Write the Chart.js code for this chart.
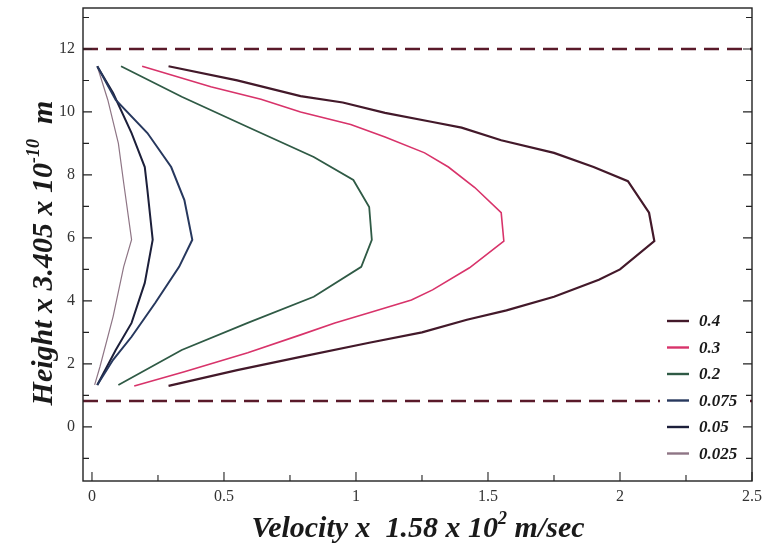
<!DOCTYPE html>
<html>
<head>
<meta charset="utf-8">
<script src="https://cdn.jsdelivr.net/npm/chart.js@4"></script>
<style>
html, body { margin: 0; padding: 0; background: #fff; }
</style>
</head>
<body>
<canvas id="chart1" width="764" height="549"></canvas>
<script>
// curves: velocity (x) and height (y), listed from top end to bottom end
var vel04 = [0.29, 0.55, 0.79, 0.95, 1.11, 1.29, 1.40, 1.55, 1.75, 1.90, 2.03, 2.11, 2.13, 2.00, 1.92, 1.75, 1.57, 1.42, 1.25, 1.05, 0.79, 0.55, 0.29];
var hgt04 = [11.45, 11.0, 10.5, 10.3, 9.97, 9.68, 9.5, 9.1, 8.7, 8.25, 7.8, 6.8, 5.9, 5.0, 4.67, 4.13, 3.7, 3.4, 3.0, 2.67, 2.22, 1.8, 1.3];

var vel03 = [0.19, 0.45, 0.64, 0.79, 0.98, 1.11, 1.26, 1.35, 1.45, 1.55, 1.56, 1.43, 1.29, 1.21, 1.05, 0.92, 0.79, 0.59, 0.35, 0.16];
var hgt03 = [11.45, 10.8, 10.4, 10.0, 9.6, 9.2, 8.7, 8.25, 7.6, 6.8, 5.9, 5.05, 4.35, 4.03, 3.62, 3.3, 2.92, 2.35, 1.75, 1.3];

var vel02 = [0.11, 0.34, 0.59, 0.84, 0.99, 1.05, 1.06, 1.02, 0.84, 0.59, 0.34, 0.10];
var hgt02 = [11.45, 10.48, 9.52, 8.57, 7.84, 6.98, 5.94, 5.08, 4.13, 3.3, 2.44, 1.33];

var vel0075 = [0.02, 0.09, 0.21, 0.30, 0.35, 0.38, 0.33, 0.24, 0.15, 0.08, 0.02];
var hgt0075 = [11.45, 10.38, 9.33, 8.25, 7.2, 5.94, 5.08, 3.94, 2.86, 2.13, 1.33];

var vel005 = [0.02, 0.08, 0.15, 0.20, 0.21, 0.23, 0.20, 0.15, 0.09, 0.02];
var hgt005 = [11.45, 10.6, 9.33, 8.25, 7.52, 5.94, 4.57, 3.3, 2.44, 1.33];

var vel0025 = [0.02, 0.06, 0.10, 0.12, 0.15, 0.12, 0.08, 0.03, 0.01];
var hgt0025 = [11.45, 10.38, 9.0, 7.75, 5.94, 5.08, 3.5, 1.9, 1.33];

var seriesLabels = ["0.4", "0.3", "0.2", "0.075", "0.05", "0.025"];
var seriesColors = ["#43192a", "#d8336a", "#2f5a45", "#27385e", "#1c1f3a", "#8e7585"];
var seriesWidths = [2.2, 1.6, 1.8, 2.0, 2.0, 1.2];

// walls (dashed lines)
var wallHeights = [12, 0.82];

var xTicks = [0, 0.25, 0.5, 0.75, 1, 1.25, 1.5, 1.75, 2, 2.25, 2.5];
var yTicks = [-1, 0, 1, 2, 3, 4, 5, 6, 7, 8, 9, 10, 11, 12, 13];
var xMin = -0.034, xMax = 2.5, yMin = -1.72, yMax = 13.3;

function zip(xs, ys) {
    var out = [];
    for (var i = 0; i < xs.length; i++) out.push({x: xs[i], y: ys[i]});
    return out;
}

var allVel = [vel04, vel03, vel02, vel0075, vel005, vel0025];
var allHgt = [hgt04, hgt03, hgt02, hgt0075, hgt005, hgt0025];

var datasets = [];
for (var w = 0; w < wallHeights.length; w++) {
    datasets.push({
        label: "wall",
        data: [{x: xMin, y: wallHeights[w]}, {x: xMax, y: wallHeights[w]}],
        borderColor: "#5a1a2a",
        borderWidth: 2.6,
        borderDash: [15, 8],
        showLine: true,
        pointRadius: 0
    });
}
for (var s = 0; s < seriesLabels.length; s++) {
    datasets.push({
        label: seriesLabels[s],
        data: zip(allVel[s], allHgt[s]),
        borderColor: seriesColors[s],
        borderWidth: seriesWidths[s],
        showLine: true,
        pointRadius: 0,
        tension: 0
    });
}

var serif = "'Liberation Serif', 'DejaVu Serif', serif";

// draws a title with superscript pieces, centred on cx
function drawParts(ctx, parts, cx, cy, bigFont, smallFont) {
    var total = 0;
    parts.forEach(function(p) {
        ctx.font = p[1] ? smallFont : bigFont;
        total += ctx.measureText(p[0]).width;
    });
    var x = cx - total / 2;
    parts.forEach(function(p) {
        ctx.font = p[1] ? smallFont : bigFont;
        ctx.fillText(p[0], x, p[1] ? cy - 13 : cy);
        x += ctx.measureText(p[0]).width;
    });
}

var framePlugin = {
    id: "frame",
    afterDraw: function(chart) {
        var ctx = chart.ctx;
        var a = chart.chartArea;
        var xs = chart.scales.x, ys = chart.scales.y;
        ctx.save();

        // legend inside plot, bottom right (white box hides the wall line)
        ctx.fillStyle = "#fff";
        ctx.fillRect(660, 308, 86, 160);
        ctx.font = "italic bold 17px " + serif;
        ctx.textBaseline = "middle";
        ctx.textAlign = "left";
        for (var i = 0; i < seriesLabels.length; i++) {
            var ly = 321 + i * 26.5;
            ctx.strokeStyle = seriesColors[i];
            ctx.lineWidth = 2.4;
            ctx.beginPath();
            ctx.moveTo(667, ly); ctx.lineTo(689, ly);
            ctx.stroke();
            ctx.fillStyle = "#1a1a1a";
            ctx.fillText(seriesLabels[i], 699, ly + 1);
        }

        ctx.strokeStyle = "#222";
        ctx.lineWidth = 1.4;
        ctx.strokeRect(a.left, a.top, a.right - a.left, a.bottom - a.top);
        // inward ticks
        ctx.lineWidth = 1.1;
        ctx.beginPath();
        xTicks.forEach(function(v) {
            var px = xs.getPixelForValue(v);
            var len = (Math.round(v * 2) === v * 2) ? 9 : 6;
            ctx.moveTo(px, a.bottom); ctx.lineTo(px, a.bottom - len);
        });
        yTicks.forEach(function(v) {
            var py = ys.getPixelForValue(v);
            var len = (v % 2 === 0) ? 9 : 6;
            ctx.moveTo(a.left, py); ctx.lineTo(a.left + len, py);
            ctx.moveTo(a.right, py); ctx.lineTo(a.right - len, py);
        });
        ctx.stroke();

        // axis titles
        ctx.fillStyle = "#1a1a1a";
        ctx.textBaseline = "alphabetic";
        drawParts(ctx, [["Velocity x  1.58 x 10", false], ["2", true], [" m/sec", false]],
            418, 537, "italic bold 30px " + serif, "italic bold 18px " + serif);
        ctx.save();
        ctx.translate(52, 253);
        ctx.rotate(-Math.PI / 2);
        drawParts(ctx, [["Height x 3.405 x 10", false], ["-10", true], ["  m", false]],
            0, 0, "italic bold 30px " + serif, "italic bold 18px " + serif);
        ctx.restore();

        ctx.restore();
    }
};

var chart1 = new Chart(document.getElementById("chart1").getContext("2d"), {
    type: "scatter",
    data: {datasets: datasets},
    options: {
        responsive: false,
        animation: false,
        layout: {padding: {top: 8, right: 12, left: 0, bottom: 0}},
        plugins: {legend: {display: false}, tooltip: {enabled: false}},
        scales: {
            x: {
                type: "linear",
                min: xMin,
                max: xMax,
                grid: {display: false, drawTicks: false},
                border: {display: false},
                afterBuildTicks: function(scale) {
                    scale.ticks = xTicks.map(function(v) { return {value: v}; });
                },
                afterFit: function(scale) {
                    scale.height = 68;
                    scale.paddingLeft = 0;
                    scale.paddingRight = 0;
                },
                ticks: {
                    autoSkip: false,
                    maxRotation: 0,
                    padding: 6,
                    color: "#333",
                    font: {family: serif, size: 16},
                    callback: function(v) { return (Math.round(v * 2) === v * 2) ? String(v) : ""; }
                }
            },
            y: {
                type: "linear",
                min: yMin,
                max: yMax,
                grid: {display: false, drawTicks: false},
                border: {display: false},
                afterBuildTicks: function(scale) {
                    scale.ticks = yTicks.map(function(v) { return {value: v}; });
                },
                afterFit: function(scale) {
                    scale.width = 83;
                    scale.paddingTop = 0;
                    scale.paddingBottom = 0;
                },
                ticks: {
                    autoSkip: false,
                    padding: 8,
                    color: "#333",
                    font: {family: serif, size: 16},
                    callback: function(v) { return (v % 2 === 0) ? String(v) : ""; }
                }
            }
        }
    },
    plugins: [framePlugin]
});
</script>
</body>
</html>
